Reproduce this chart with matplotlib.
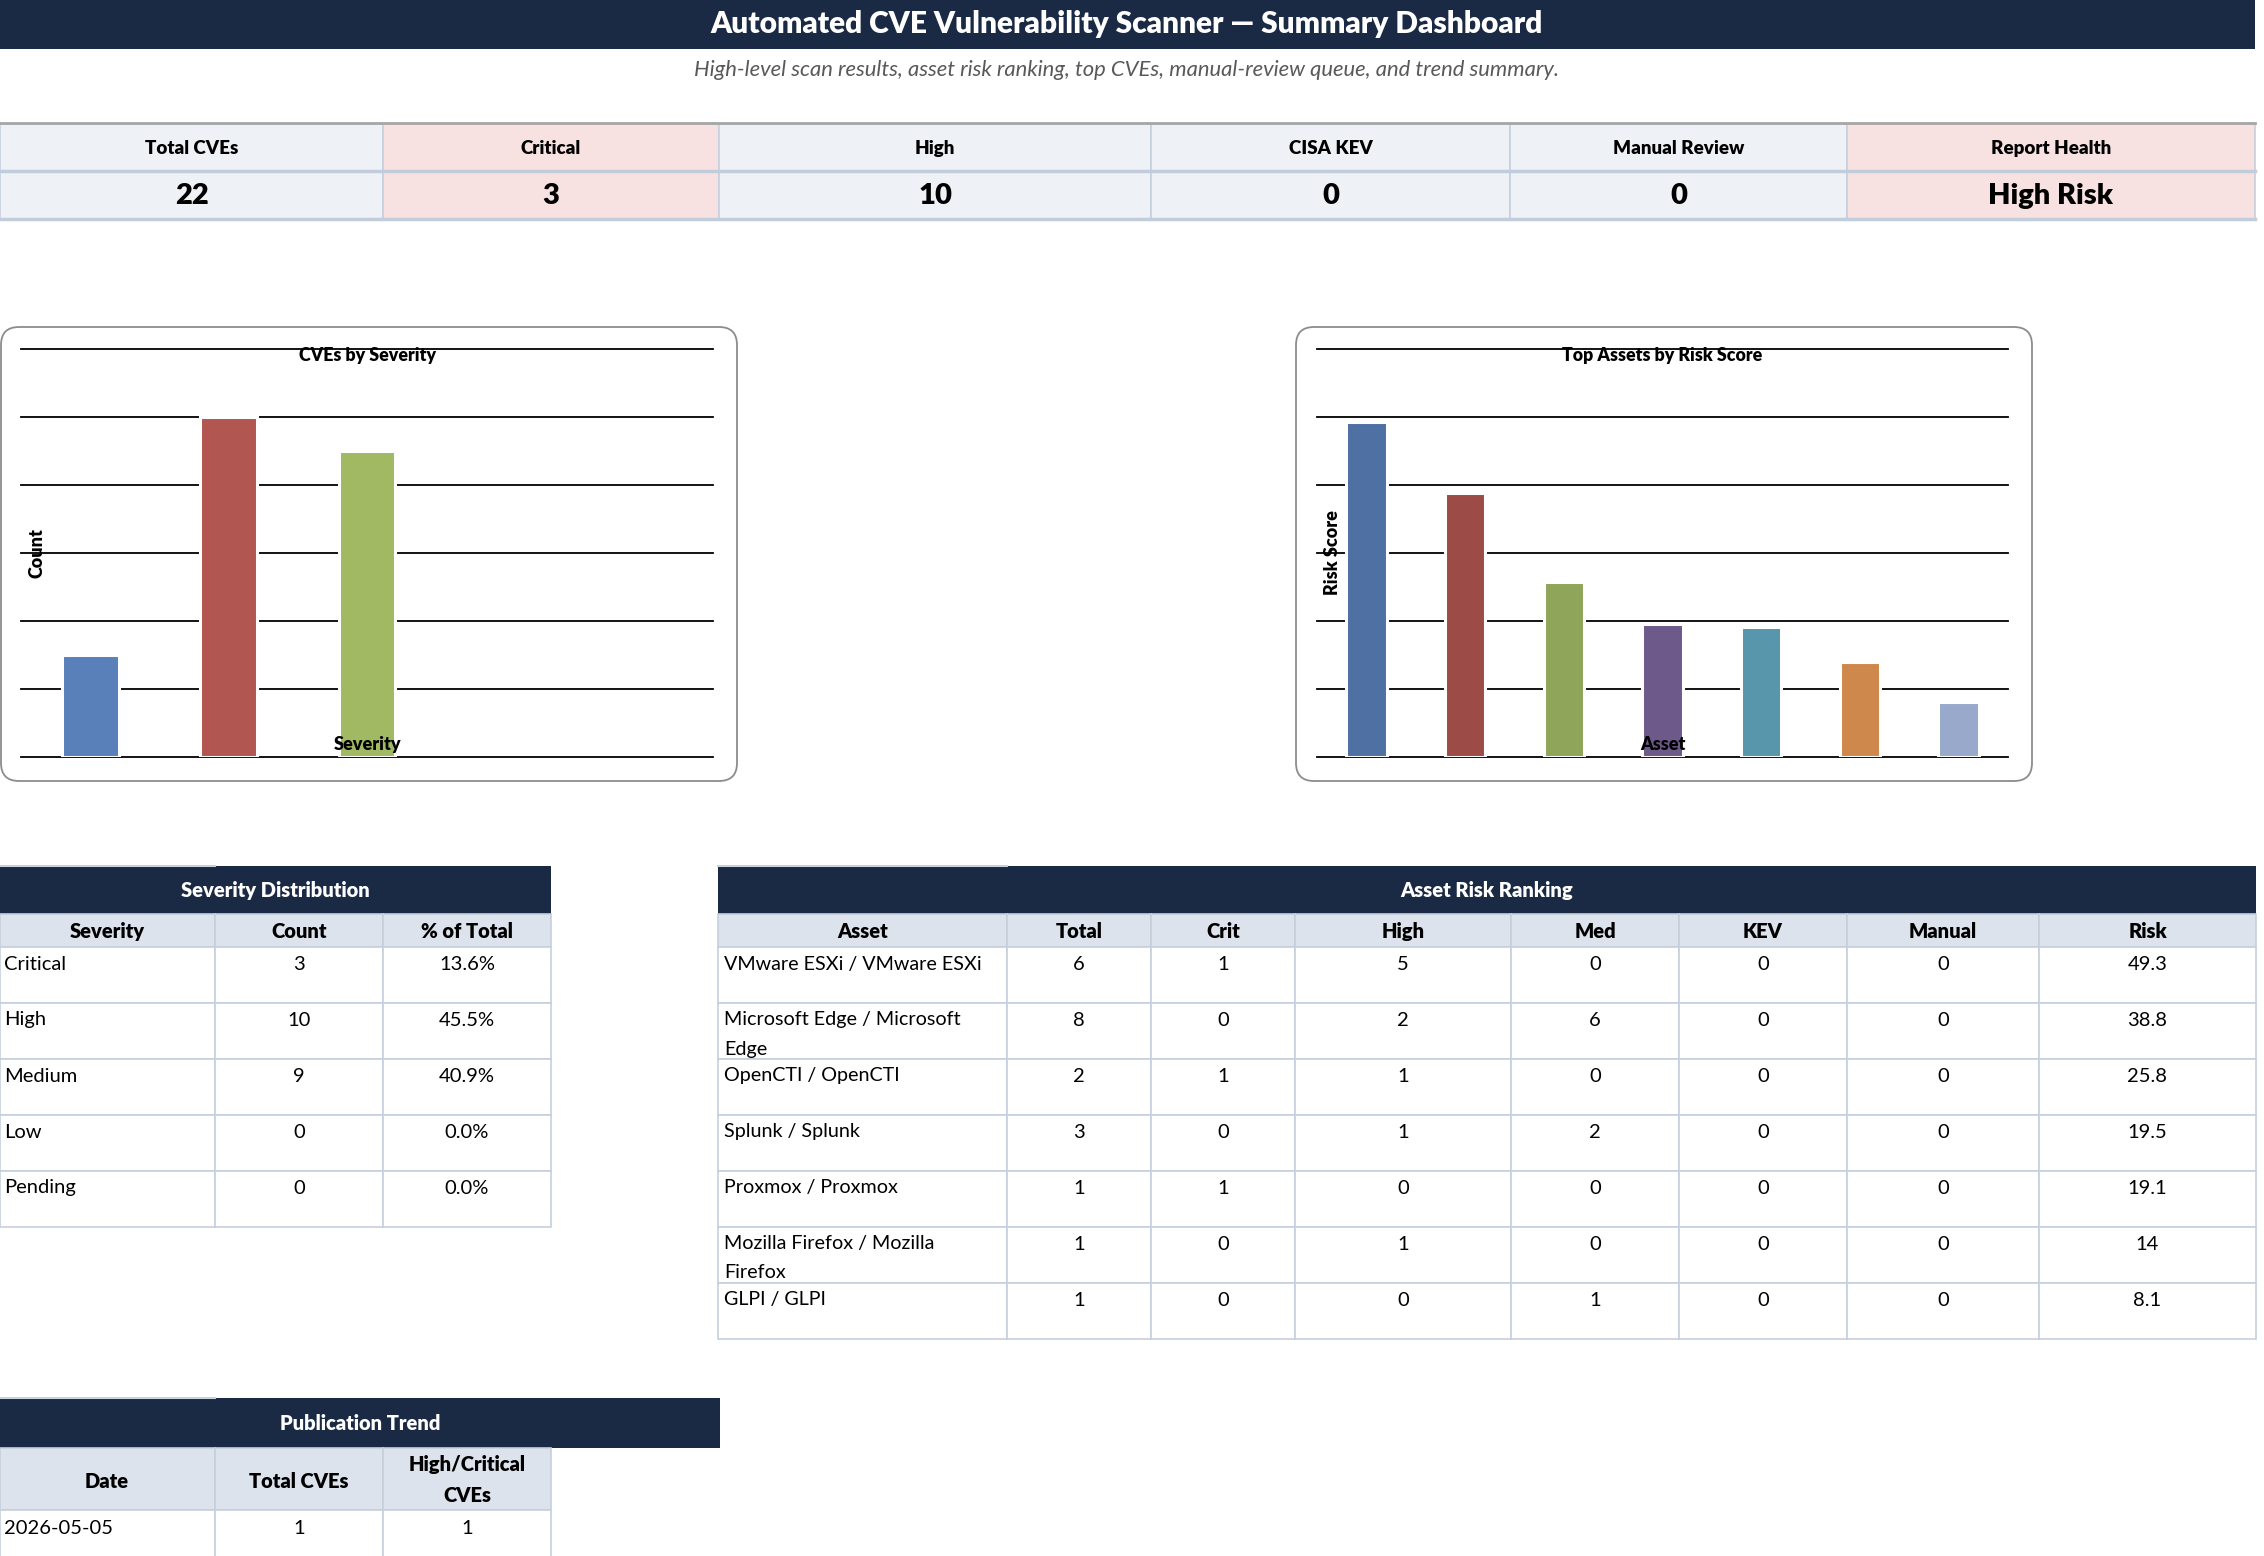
import textwrap
import matplotlib
matplotlib.use("Agg")
import matplotlib.pyplot as plt
from matplotlib.patches import Rectangle, FancyBboxPatch

plt.rcParams['font.family'] = ['Lato', 'DejaVu Sans']

W, H = 2264, 1556

# ---- data ----
title = "Automated CVE Vulnerability Scanner \u2014 Summary Dashboard"
subtitle = ("High-level scan results, asset risk ranking, top CVEs, "
            "manual-review queue, and trend summary.")

kpi_labels = ["Total CVEs", "Critical", "High", "CISA KEV", "Manual Review", "Report Health"]
kpi_values = ["22", "3", "10", "0", "0", "High Risk"]

severities = ["Critical", "High", "Medium", "Low", "Pending"]
severity_counts = [3, 10, 9, 0, 0]

assets = ["VMware ESXi / VMware ESXi", "Microsoft Edge / Microsoft Edge",
          "OpenCTI / OpenCTI", "Splunk / Splunk", "Proxmox / Proxmox",
          "Mozilla Firefox / Mozilla Firefox", "GLPI / GLPI"]
asset_total = [6, 8, 2, 3, 1, 1, 1]
asset_crit = [1, 0, 1, 0, 1, 0, 0]
asset_high = [5, 2, 1, 1, 0, 1, 0]
asset_med = [0, 6, 0, 2, 0, 0, 1]
asset_kev = [0, 0, 0, 0, 0, 0, 0]
asset_manual = [0, 0, 0, 0, 0, 0, 0]
asset_risk = [49.3, 38.8, 25.8, 19.5, 19.1, 14.0, 8.1]

trend_dates = ["2026-05-05"]
trend_total = [1]
trend_high_crit = [1]

# ---- styles ----
NAVY = '#1B2A44'
BORDER = '#C6D0DD'
HEAD = '#DCE3EC'
LIGHT = '#EEF2F7'
PINK = '#F8E1E1'
BOLD = 800
FS = 14.5
sev_colors = ['#5A80B9', '#B15651', '#A2B963', '#8064A2', '#4BACC6']
asset_colors = ['#4F70A2', '#9D4B47', '#8FA55A', '#6D5A8A', '#5896AB', '#CF884C', '#98A9CB']

fig = plt.figure(figsize=(W / 100, H / 100), dpi=100)
bg = fig.add_axes([0, 0, 1, 1])
bg.set_xlim(0, W)
bg.set_ylim(H, 0)
bg.axis('off')


def ftext(x, y, s, **kw):
    fig.text(x / W, 1 - y / H, s, **kw)


def cell(x0, x1, y0, y1, fill='white', edge=BORDER, lw=1.2):
    bg.add_patch(Rectangle((x0, y0), x1 - x0, y1 - y0, facecolor=fill,
                           edgecolor=edge, linewidth=lw))


def band(x0, x1, y0, y1, first_col_end, text):
    bg.add_patch(Rectangle((x0, y0), x1 - x0, y1 - y0, facecolor=NAVY, edgecolor='none'))
    bg.plot([x0, first_col_end], [y0, y0], color='#C9D1DC', lw=1.5)
    bg.text((x0 + x1) / 2, (y0 + y1) / 2, text, color='white', fontsize=14.5,
            fontweight=BOLD, ha='center', va='center')


# ---- header ----
bg.add_patch(Rectangle((0, 0), 2255, 49, facecolor=NAVY, edgecolor='none'))
bg.text(1127, 24, title, color='white', fontsize=21.5, fontweight=BOLD,
        ha='center', va='center')
bg.text(1127, 70, subtitle, color='#595959', fontsize=15.8, style='italic',
        ha='center', va='center')

# ---- KPI strip ----
kx = [0, 383, 719, 1151, 1510, 1847, 2255]
kfill = [LIGHT, PINK, LIGHT, LIGHT, LIGHT, PINK]
for i in range(len(kpi_labels)):
    cell(kx[i], kx[i + 1], 124, 171, kfill[i])
    cell(kx[i], kx[i + 1], 171, 219, kfill[i])
    cx = (kx[i] + kx[i + 1]) / 2
    bg.text(cx, 148, kpi_labels[i], fontsize=13.5, fontweight=BOLD, ha='center', va='center')
    bg.text(cx, 196, kpi_values[i], fontsize=21, fontweight=BOLD, ha='center', va='center')
bg.plot([0, 2255], [123, 123], color='#A6A6A6', lw=2)
bg.plot([0, 2255], [171, 171], color='#C2CDDB', lw=2.5)
bg.plot([0, 2255], [219, 219], color='#C2CDDB', lw=2.5)

# ---- charts ----
for bx in (0, 1295):
    bg.add_patch(FancyBboxPatch((bx + 1, 327), 736, 454,
                                boxstyle='round,pad=0,rounding_size=18',
                                facecolor='white', edgecolor='#8C8C8C', lw=1.3))


def bar_chart(x0, x1, labels, values, colors, ymax, step, ttl, xl, yl):
    y0, y1 = 349, 757
    ax = fig.add_axes([x0 / W, 1 - y1 / H, (x1 - x0) / W, (y1 - y0) / H])
    ax.patch.set_visible(False)
    xs = list(range(len(labels)))
    widths = [2.2 if v > 0 else 0 for v in values]
    ax.bar(xs, values, width=0.41, color=colors[:len(labels)],
           edgecolor='white', linewidth=widths, zorder=3)
    ax.set_xlim(-0.5, len(labels) - 0.5)
    ax.set_ylim(0, ymax)
    ax.set_yticks(range(0, ymax + 1, step))
    ax.set_xticks([])
    ax.yaxis.grid(True, color='black', lw=1.3)
    for gl in ax.get_ygridlines():
        gl.set_clip_on(False)
    ax.set_axisbelow(True)
    ax.tick_params(left=False, labelleft=False)
    for sp in ax.spines.values():
        sp.set_visible(False)
    cx = (x0 + x1) / 2
    ftext(cx, 355, ttl, fontsize=12.8, fontweight=BOLD, ha='center', va='center')
    ftext(cx, 744, xl, fontsize=13, fontweight=BOLD, ha='center', va='center')
    ftext(x0 + 16, 553, yl, fontsize=13, fontweight=BOLD, ha='center',
          va='center', rotation=90)


bar_chart(21, 713, severities, severity_counts, sev_colors, 12, 2,
          "CVEs by Severity", "Severity", "Count")
bar_chart(1317, 2008, assets, asset_risk, asset_colors, 60, 10,
          "Top Assets by Risk Score", "Asset", "Risk Score")

# ---- Severity Distribution ----
sx = [0, 215, 383, 551]
band(0, 551, 866, 914, 215, "Severity Distribution")
for i, h in enumerate(["Severity", "Count", "% of Total"]):
    cell(sx[i], sx[i + 1], 914, 947, HEAD)
    bg.text((sx[i] + sx[i + 1]) / 2, 931, h, fontsize=FS, fontweight=BOLD,
            ha='center', va='center')
total = sum(severity_counts)
for r, sev in enumerate(severities):
    top = 947 + 56 * r
    for i in range(3):
        cell(sx[i], sx[i + 1], top, top + 56)
    ty = top + 17
    bg.text(4, ty, sev, fontsize=FS, ha='left', va='center')
    bg.text(299, ty, str(severity_counts[r]), fontsize=FS, ha='center', va='center')
    bg.text(467, ty, f"{100 * severity_counts[r] / total:.1f}%", fontsize=FS,
            ha='center', va='center')

# ---- Asset Risk Ranking ----
ax_ = [718, 1007, 1151, 1295, 1511, 1679, 1847, 2039, 2256]
band(718, 2256, 866, 914, 1007, "Asset Risk Ranking")
for i, h in enumerate(["Asset", "Total", "Crit", "High", "Med", "KEV", "Manual", "Risk"]):
    cell(ax_[i], ax_[i + 1], 914, 947, HEAD)
    bg.text((ax_[i] + ax_[i + 1]) / 2, 931, h, fontsize=FS, fontweight=BOLD,
            ha='center', va='center')
for r, name in enumerate(assets):
    top = 947 + 56 * r
    for i in range(8):
        cell(ax_[i], ax_[i + 1], top, top + 56)
    ty = top + 17
    for k, line in enumerate(textwrap.wrap(name, 26)):
        bg.text(724, ty + 29 * k, line, fontsize=14.2, ha='left', va='center')
    vals = [asset_total[r], asset_crit[r], asset_high[r], asset_med[r],
            asset_kev[r], asset_manual[r], f"{asset_risk[r]:g}"]
    for i, v in enumerate(vals):
        bg.text((ax_[i + 1] + ax_[i + 2]) / 2, ty, str(v), fontsize=FS,
                ha='center', va='center')

# ---- Publication Trend ----
band(0, 720, 1398, 1448, 215, "Publication Trend")
cell(0, 215, 1448, 1510, HEAD)
cell(215, 383, 1448, 1510, HEAD)
cell(383, 551, 1448, 1510, HEAD)
bg.text(107, 1481, "Date", fontsize=FS, fontweight=BOLD, ha='center', va='center')
bg.text(299, 1481, "Total CVEs", fontsize=FS, fontweight=BOLD, ha='center', va='center')
bg.text(467, 1465, "High/Critical", fontsize=FS, fontweight=BOLD, ha='center', va='center')
bg.text(467, 1495, "CVEs", fontsize=FS, fontweight=BOLD, ha='center', va='center')
for r, d in enumerate(trend_dates):
    top = 1510 + 56 * r
    for i in range(3):
        cell(sx[i], sx[i + 1], top, top + 56)
    bg.text(4, top + 18, d, fontsize=FS, ha='left', va='center')
    bg.text(299, top + 18, str(trend_total[r]), fontsize=FS, ha='center', va='center')
    bg.text(467, top + 18, str(trend_high_crit[r]), fontsize=FS, ha='center', va='center')

fig.savefig('out.png', dpi=100)
